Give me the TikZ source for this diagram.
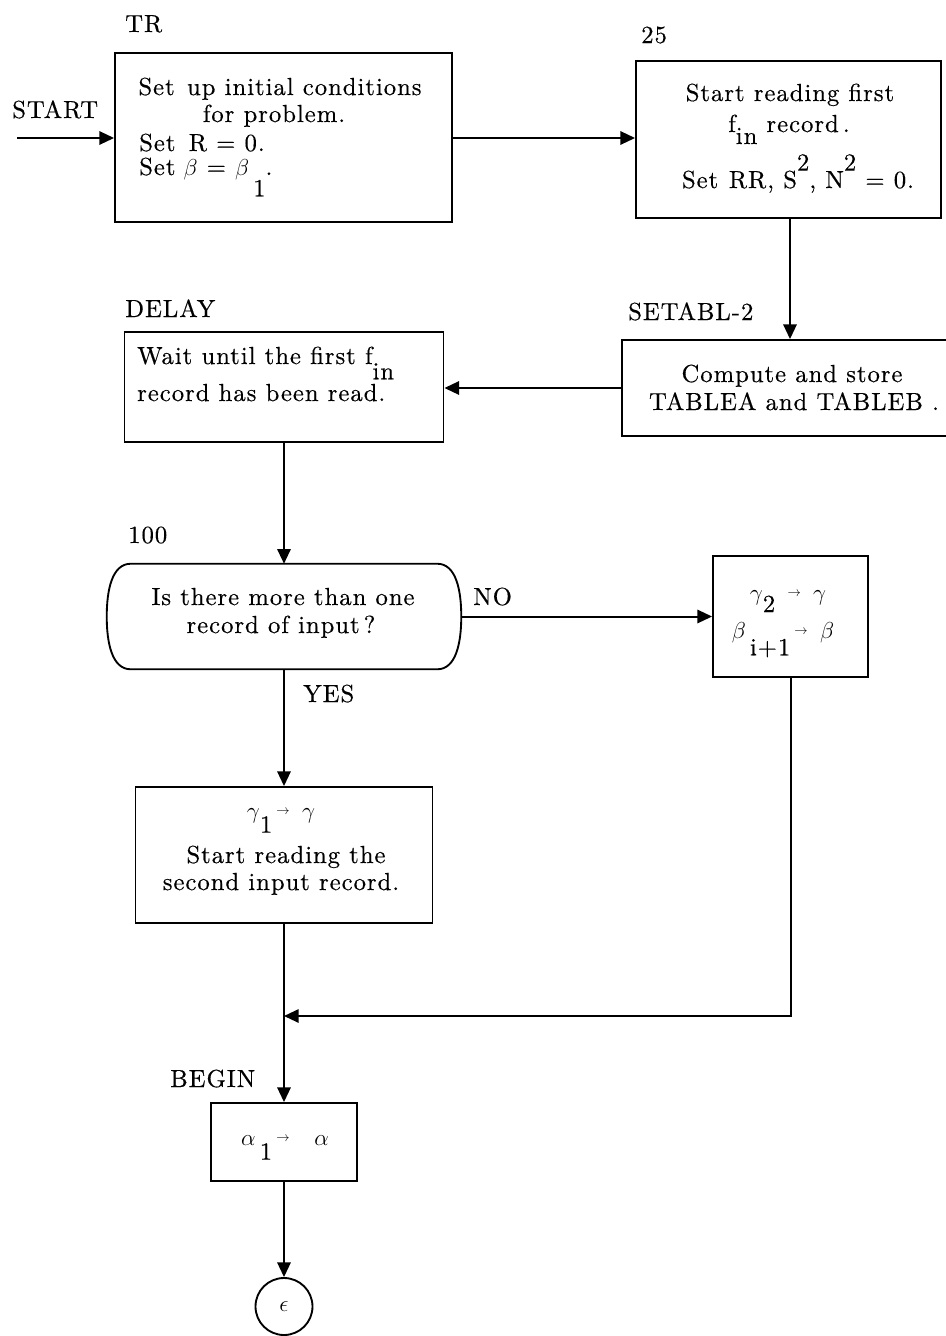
\documentclass[tikz,border=0pt]{standalone}
\usepackage{fontspec}
\setmainfont{lmroman10-regular.otf}[LetterSpace=4, FakeBold=0.4]
\usetikzlibrary{arrows.meta}
% dropped / raised indices set at text size, as on a typewriter sheet
\newcommand\lowsub[2][0.45em]{\raisebox{-#1}{#2}}
\newcommand\highsup[2][13pt]{\raisebox{#1}{#2}}
\newcommand\smallto{\raisebox{0.15em}{\fontsize{10}{10}\selectfont$\rightarrow$}}
\begin{document}
\begin{tikzpicture}[x=0.75pt,y=-0.75pt,
  font=\fontsize{18.5}{21}\selectfont,
  wh/.style 2 args={minimum width=#1*0.75pt, minimum height=#2*0.75pt},
  box/.style={draw, line width=1.4pt, inner sep=0pt},
  txt/.style={inner sep=0pt, anchor=base},
  lbl/.style={inner sep=0pt, anchor=base west},
  flow/.style={line width=1.5pt, -{Triangle[length=11pt,width=10pt]}},
  plain/.style={line width=1.5pt}]
\useasboundingbox (0,0) rectangle (946,1336);
\clip (0,0) rectangle (946,1336);
\fill[white] (0,0) rectangle (946,1336);

% ---- boxes ----
\node[box, wh={337}{169}] (tr) at (283.5,137.5) {};
\node[box, wh={305}{157}] (b25) at (788.5,139.5) {};
\node[box, wh={336}{96}] (setabl) at (790,388) {};
\node[box, wh={319}{110}] (delay) at (284,387) {};
\node[inner sep=0pt, wh={354}{105}] (dec) at (284,616.5) {};
\draw[line width=1.4pt] ([xshift=18pt]dec.north west) -- ([xshift=-18pt]dec.north east)
  .. controls +(14pt,0) and +(0,20pt) .. (dec.east)
  .. controls +(0,-20pt) and +(14pt,0) .. ([xshift=-18pt]dec.south east)
  -- ([xshift=18pt]dec.south west)
  .. controls +(-14pt,0) and +(0,-20pt) .. (dec.west)
  .. controls +(0,20pt) and +(-14pt,0) .. cycle;
\node[box, wh={155}{121}] (g2) at (790.5,616.5) {};
\node[box, wh={297}{136}] (g1) at (284,855) {};
\node[box, wh={146}{78}] (a) at (284,1142) {};
\node[draw, circle, line width=1.4pt, inner sep=0pt, minimum size=42.75pt] (eps) at (284,1306.5)
  {\fontsize{17}{17}\selectfont$\epsilon$};

% ---- texts inside the boxes ----
\node[txt] (tr1) at (280,95) {Set\enspace up initial conditions};
\node[txt] (tr2) at (274,122) {for problem.};
\node[lbl] (tr3) at (139,151) {Set\hspace{10pt}R = 0.};
\node[lbl] (tr4) at (139,175) {Set\hspace{6pt}$\beta$ = $\beta$\,\lowsub[16pt]{1}.};

\node[txt] (s1) at (790,101) {Start reading first};
\node[txt] (s2) at (789,132) {f\lowsub[9pt]{in} record\,.};
\node[txt] (s3) at (798,188) {Set\hspace{8pt}RR, S\highsup{2}, N\highsup{2} = 0.};

\node[lbl] (d1) at (137,364) {Wait until the first f\lowsub[11.5pt]{in}};
\node[lbl] (d2) at (137,401) {record has been read.};

\node[txt] (c1) at (792,382) {Compute and store};
\node[txt] (c2) at (794,410) {TABLEA and TABLEB\ .};

\node[txt] (q1) at (283,605) {Is there more than one};
\node[txt] (q2) at (281,633) {record of input\,?};

\node[txt] (r1) at (788,600) {$\gamma$\lowsub[9pt]{2}\enspace\smallto\enspace$\gamma$};
\node[txt] (r2) at (783,638) {$\beta$\,\lowsub[13pt]{i+1}\,\smallto\enspace$\beta$};

\node[txt] (p1) at (281,818) {$\gamma$\lowsub[11pt]{1}\,\smallto\enspace$\gamma$};
\node[txt] (p2) at (286,863) {Start reading the};
\node[txt] (p3) at (281,890) {second input record.};

\node[txt] (a1) at (285,1145) {$\alpha$\,\lowsub[11pt]{1}\,\smallto\quad$\alpha$};

% ---- labels ----
\node[lbl] (lTR) at (125,32) {TR};
\node[lbl] (l25) at (641,43) {25};
\node[lbl] (lstart) at (12,118) {START};
\node[lbl] (ldelay) at (125,317) {DELAY};
\node[lbl] (lsetabl) at (628,320) {SETABL-2};
\node[lbl] (l100) at (128,543) {100};
\node[lbl] (lno) at (473,605) {NO};
\node[lbl] (lyes) at (303,702) {YES};
\node[lbl] (lbegin) at (170,1087) {BEGIN};

% ---- connectors ----
\coordinate (startpt) at (17,138);
\coordinate (join) at (284,1016);
\draw[flow] (startpt) -- (tr.west |- startpt);
\draw[flow] (tr.east |- startpt) -- (b25.west |- startpt);
\draw[flow] (setabl.north |- b25.south) -- (setabl.north);
\draw[flow] (setabl.west) -- (delay.east |- setabl.west);
\draw[flow] (delay.south) -- (dec.north);
\draw[flow] (dec.east) -- (g2.west);
\draw[flow] (dec.south) -- (g1.north);
\draw[flow] (g2.south) |- (join);
\draw[flow] (g1.south) -- (a.north);
\draw[flow] (a.south) -- (eps.north);
\end{tikzpicture}
\end{document}
